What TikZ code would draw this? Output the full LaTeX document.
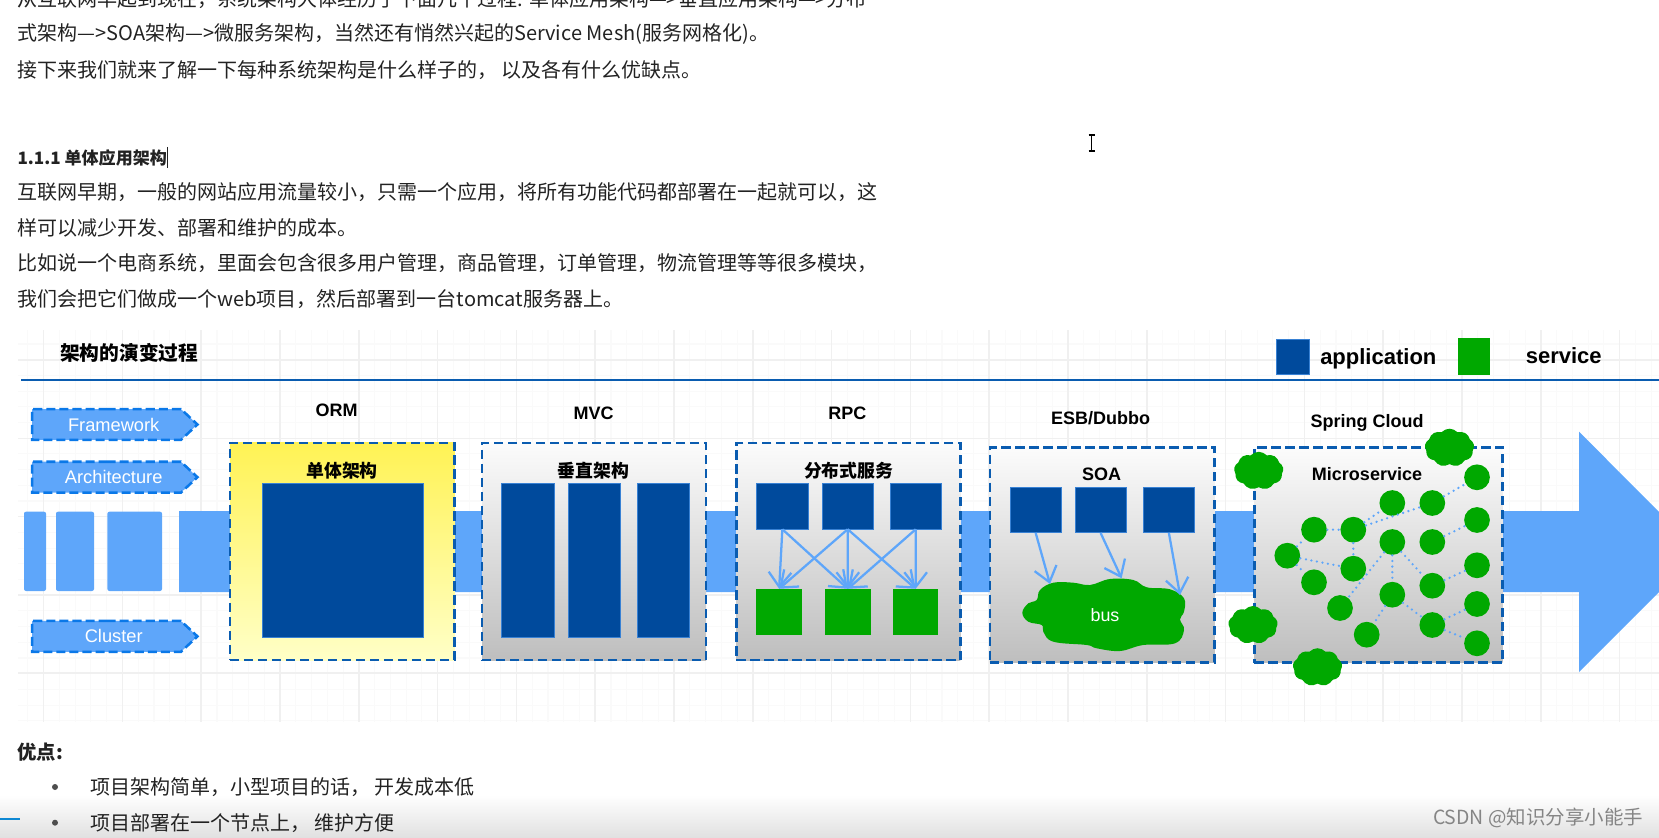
\documentclass[tikz,border=0pt]{standalone}
\usepackage{fontspec}
\setmainfont{Noto Sans CJK SC}
\newfontfamily\latinfont{Liberation Sans}
\usetikzlibrary{arrows.meta,shapes.symbols}
\definecolor{appblue}{RGB}{0,74,156}
\definecolor{svcgreen}{RGB}{0,168,0}
\definecolor{bandblue}{RGB}{94,166,250}
\definecolor{dashblue}{RGB}{10,92,176}
\definecolor{tagblue}{RGB}{10,120,232}
\definecolor{gridmajor}{RGB}{240,240,240}
\definecolor{gridminor}{RGB}{250,250,250}
\definecolor{boxgray}{RGB}{190,190,190}
\definecolor{bodyink}{RGB}{34,34,34}
\tikzset{every picture/.style={line width=0.75pt}}
\tikzset{
  bodytext/.style={anchor=west,inner sep=0,text=bodyink,font=\fontsize{15}{18}\selectfont},
  headtext/.style={anchor=west,inner sep=0,text=bodyink,font=\fontsize{12.8}{16}\selectfont\bfseries},
  cjklabel/.style={inner sep=0,text=black,font=\fontsize{13.4}{16}\selectfont\bfseries},
  latinlabel/.style={inner sep=0,text=black,font=\fontsize{13.5}{16}\selectfont\latinfont\bfseries},
  legendlabel/.style={inner sep=0,text=black,font=\fontsize{16.5}{20}\selectfont\latinfont\bfseries},
  tagshape/.style={signal,signal to=east,signal pointer angle=86,draw=tagblue,fill=bandblue,line width=1.9pt,dash pattern=on 6.8pt off 3pt,minimum width=124pt,minimum height=23.2pt,inner sep=0,text=white,font=\fontsize{13.7}{16}\selectfont\latinfont},
  stagebox/.style={draw=dashblue,line width=1.9pt,dash pattern=on 7pt off 3.5pt,top color=white!95!boxgray,bottom color=boxgray,inner sep=0},
  appbox/.style={fill=appblue,draw=bandblue!60!appblue,line width=0.4pt,inner sep=0},
  svcbox/.style={fill=svcgreen,inner sep=0},
  svcdot/.style={circle,fill=svcgreen,minimum size=19.3pt,inner sep=0},
  svccloud/.style={cloud,cloud puffs=9,cloud puff arc=95,aspect=1.3,fill=svcgreen,minimum width=37pt,minimum height=28.5pt,inner sep=0},
  calllink/.style={draw=bandblue,line width=1.7pt,-{Straight Barb[length=11pt,width=17pt]}},
  meshlink/.style={draw=bandblue,line width=1.9pt,line cap=round,dash pattern=on 0pt off 4.2pt},
}
\begin{document}
\begin{tikzpicture}[x=0.75pt,y=0.75pt,yscale=-1,xscale=1]
\path[use as bounding box,clip] (0,0) rectangle (1659,838);

%Bottom shade of the page
\fill[top color=white,bottom color=black!12] (0,795) rectangle (1659,838);

%Grid behind the diagram
\foreach \gx in {0,...,103}{
  \draw[gridminor,line width=0.8pt] ({27.9+15.76*\gx},330) -- ({27.9+15.76*\gx},722);
}
\foreach \gy in {0,...,24}{
  \draw[gridminor,line width=0.8pt] (18,{344+15.7*\gy}) -- (1659,{344+15.7*\gy});
}
\foreach \gx in {0,...,20}{
  \draw[gridmajor,line width=1.1pt] ({43.6+78.8*\gx},330) -- ({43.6+78.8*\gx},722);
}
\foreach \gy in {0,...,4}{
  \draw[gridmajor,line width=1.1pt] (18,{360+78.3*\gy}) -- (1659,{360+78.3*\gy});
}

%Rule under the title
\draw[dashblue,line width=2pt] (21,380) -- (1659,380);

%Band and big arrow
\fill[bandblue] (179,511) -- (1579,511) -- (1579,431.7) -- (1699,552) -- (1579,672) -- (1579,592) -- (179,592) -- cycle;
\fill[bandblue,rounded corners=1.5pt] (24,511.7) rectangle (46,591);
\fill[bandblue,rounded corners=1.5pt] (56,511.7) rectangle (94,591);
\fill[bandblue,rounded corners=1.5pt] (107.4,511.7) rectangle (162,591);

%Stage boxes
\node[stagebox,top color=yellow!65!white!95!red,bottom color=yellow!22!white,minimum width=168.4pt,minimum height=162.8pt] (ormbox) at (342.25,551.5) {};
\node[stagebox,minimum width=168pt,minimum height=162.8pt] (mvcbox) at (594,551.5) {};
\node[stagebox,minimum width=167.9pt,minimum height=162.8pt] (rpcbox) at (848.4,551.5) {};
\node[stagebox,minimum width=168.4pt,minimum height=161.6pt] (soabox) at (1102.25,555) {};
\node[stagebox,minimum width=186.3pt,minimum height=161.6pt] (microbox) at (1378.5,555) {};

%Application blocks
\node[appbox,minimum width=120.8pt,minimum height=115.5pt] (ormapp) at (342.5,560.7) {};
\node[appbox,minimum width=39.9pt,minimum height=115.5pt] (mvca) at (528,560.7) {};
\node[appbox,minimum width=38.9pt,minimum height=115.5pt] (mvcb) at (594.35,560.7) {};
\node[appbox,minimum width=39.3pt,minimum height=115.5pt] (mvcc) at (663,560.7) {};
\node[appbox,minimum width=38.7pt,minimum height=34pt] (rpca) at (782.35,506.35) {};
\node[appbox,minimum width=38.7pt,minimum height=34pt] (rpcb) at (847.7,506.35) {};
\node[appbox,minimum width=38.7pt,minimum height=34pt] (rpcc) at (915.7,506.35) {};
\node[appbox,minimum width=38.6pt,minimum height=33.8pt] (soaa) at (1035.7,510.2) {};
\node[appbox,minimum width=38.6pt,minimum height=33.8pt] (soab) at (1100.65,510.2) {};
\node[appbox,minimum width=38.6pt,minimum height=33.8pt] (soac) at (1168.9,510.2) {};
\node[appbox,minimum width=24.5pt,minimum height=26.3pt] (legendapp) at (1292.65,356.5) {};

%Service blocks
\node[svcbox,minimum width=34pt,minimum height=34.3pt] (svca) at (779.15,612.15) {};
\node[svcbox,minimum width=34pt,minimum height=34.3pt] (svcb) at (847.85,612.15) {};
\node[svcbox,minimum width=34pt,minimum height=34.3pt] (svcc) at (915.65,612.15) {};
\node[svcbox,minimum width=24.2pt,minimum height=27.5pt] (legendsvc) at (1473.85,356.35) {};

%Calls between the blocks
\draw[calllink] (rpca.south) -- (svca.north);
\draw[calllink] (rpca.south) -- (svcb.north);
\draw[calllink] (rpcb.south) -- (svca.north);
\draw[calllink] (rpcb.south) -- (svcb.north);
\draw[calllink] (rpcb.south) -- (svcc.north);
\draw[calllink] (rpcc.south) -- (svcb.north);
\draw[calllink] (rpcc.south) -- (svcc.north);

%Bus cloud
\fill[svcgreen] plot[smooth cycle,tension=0.65] coordinates {(1022.3,612.7) (1028.3,603.3) (1036.7,600) (1040,590) (1053.3,582.7) (1073.3,582.7) (1090,585) (1110,579) (1133.3,580) (1146.7,587.3) (1170,589.3) (1184,598.3) (1184,611.7) (1180,619.3) (1184,630) (1175,643.3) (1143.3,645) (1120,651) (1096.7,648.3) (1086.7,645) (1053.3,641.7) (1043.3,631.7) (1041.7,625) (1028.3,621.7)};
\node[inner sep=0,text=white,font=\fontsize{13.4}{16}\selectfont\latinfont] (bus) at (1105,615) {bus};
\coordinate (busa) at (1050,584);
\coordinate (busb) at (1121.6,578.3);
\coordinate (busc) at (1180,595);
\draw[calllink] (soaa.south) -- (busa);
\draw[calllink] (soab.south) -- (busb);
\draw[calllink] (soac.south) -- (busc);

%Microservice dots
\foreach \mname/\mx/\my in {ma/1287.3/555.7,mb/1314/529.7,mc/1353.3/529.7,md/1314/582.3,me/1353.3/568.7,mf/1340/608,mg/1366.7/634.7,mh/1392.3/503,mi/1432.3/503,mj/1392.3/542,mk/1432.3/542,ml/1392.3/594.7,mm/1432.3/585.7,mn/1432.3/625,mo/1477/477.3,mp/1477/520,mq/1477/565.3,mr/1477/604,ms/1477/643.3}{
  \node[svcdot] (\mname) at (\mx,\my) {};
}
\foreach \mfrom/\mto in {ma/mb,mb/mc,mc/mh,mc/mi,mi/mo,mc/me,ma/me,ma/md,mj/mf,mj/ml,mj/mm,ml/mg,ml/mn,mk/mp,mm/mq,mn/mr,mn/ms}{
  \draw[meshlink] (\mfrom) -- (\mto);
}

%Small clouds round the box
\node[svccloud] (clouda) at (1449.5,447.7) {};
\node[svccloud] (cloudb) at (1258.7,470.8) {};
\node[svccloud] (cloudc) at (1253,625) {};
\node[svccloud] (cloudd) at (1317.5,667.2) {};

%Tags on the left
\node[tagshape] (framework) at (106.5,424.5) {\hspace*{10.8pt}Framework};
\node[tagshape] (architecture) at (106.5,477.2) {\hspace*{10.8pt}Architecture};
\node[tagshape] (cluster) at (106.5,636.4) {\hspace*{10.8pt}Cluster};

% Text Node
\node[cjklabel,font=\fontsize{14.8}{18}\selectfont\bfseries] (title) at (129.3,353) {架构的演变过程};
% Text Node
\node[legendlabel] (legendapptext) at (1378.3,358.5) {application};
\node[legendlabel] (legendsvctext) at (1563.7,356) {service};
% Text Node
\node[latinlabel] (ormtext) at (336.5,410) {ORM};
\node[latinlabel] (mvctext) at (593.7,413) {MVC};
\node[latinlabel] (rpctext) at (847.4,413) {RPC};
\node[latinlabel] (esbtext) at (1100.6,418) {ESB/Dubbo};
\node[latinlabel] (springtext) at (1367,423) {Spring Cloud};
% Text Node
\node[cjklabel] (monotext) at (342,470.7) {单体架构};
\node[cjklabel] (verttext) at (593.7,470.7) {垂直架构};
\node[cjklabel] (disttext) at (848.7,470.7) {分布式服务};
\node[latinlabel] (soatext) at (1101.6,474) {SOA};
\node[latinlabel] (microtext) at (1367,474) {Microservice};

% Text Node
\node[bodytext] (linea) at (17,-1) {从互联网早起到现在，系统架构大体经历了下面几个过程: 单体应用架构—>垂直应用架构—>分布};
\node[bodytext] (lineb) at (17,34.3) {式架构—>SOA架构—>微服务架构，当然还有悄然兴起的Service Mesh(服务网格化)。};
\node[bodytext] (linec) at (17,70) {接下来我们就来了解一下每种系统架构是什么样子的， 以及各有什么优缺点。};
% Text Node
\node[headtext] (heading) at (17,157.7) {1.1.1 单体应用架构};
\draw[bodyink,line width=0.75pt] (heading.east |- 0,147) -- (heading.east |- 0,168);
% Text Node
\node[bodytext] (lined) at (17,192) {互联网早期，一般的网站应用流量较小，只需一个应用，将所有功能代码都部署在一起就可以，这};
\node[bodytext] (linee) at (17,228) {样可以减少开发、部署和维护的成本。};
\node[bodytext] (linef) at (17,263) {比如说一个电商系统，里面会包含很多用户管理，商品管理，订单管理，物流管理等等很多模块，};
\node[bodytext] (lineg) at (17,299) {我们会把它们做成一个web项目，然后部署到一台tomcat服务器上。};
% Text Node
\node[headtext,font=\fontsize{14.5}{18}\selectfont\bfseries] (prostext) at (17,751.7) {优点:};
\node[bodytext] (prosa) at (90,787) {项目架构简单，小型项目的话， 开发成本低};
\node[bodytext] (prosb) at (90,822.7) {项目部署在一个节点上， 维护方便};
\node[circle,fill=bodyink!80,minimum size=4.5pt,inner sep=0] (dota) at (55,787) {};
\node[circle,fill=bodyink!80,minimum size=4.5pt,inner sep=0] (dotb) at (55,822.7) {};

%Mouse cursor, scroll mark and watermark
\draw[black,line width=0.8pt] (1088.5,135) -- (1094.5,135) (1091.5,135) -- (1091.5,151) (1088.5,151) -- (1094.5,151);
\draw[cyan!70!blue,line width=1.5pt] (0,819) -- (20,819);
\node[inner sep=0,text=black!48,font=\fontsize{14.6}{17}\selectfont] (mark) at (1538,818) {CSDN @知识分享小能手};
\end{tikzpicture}
\end{document}
